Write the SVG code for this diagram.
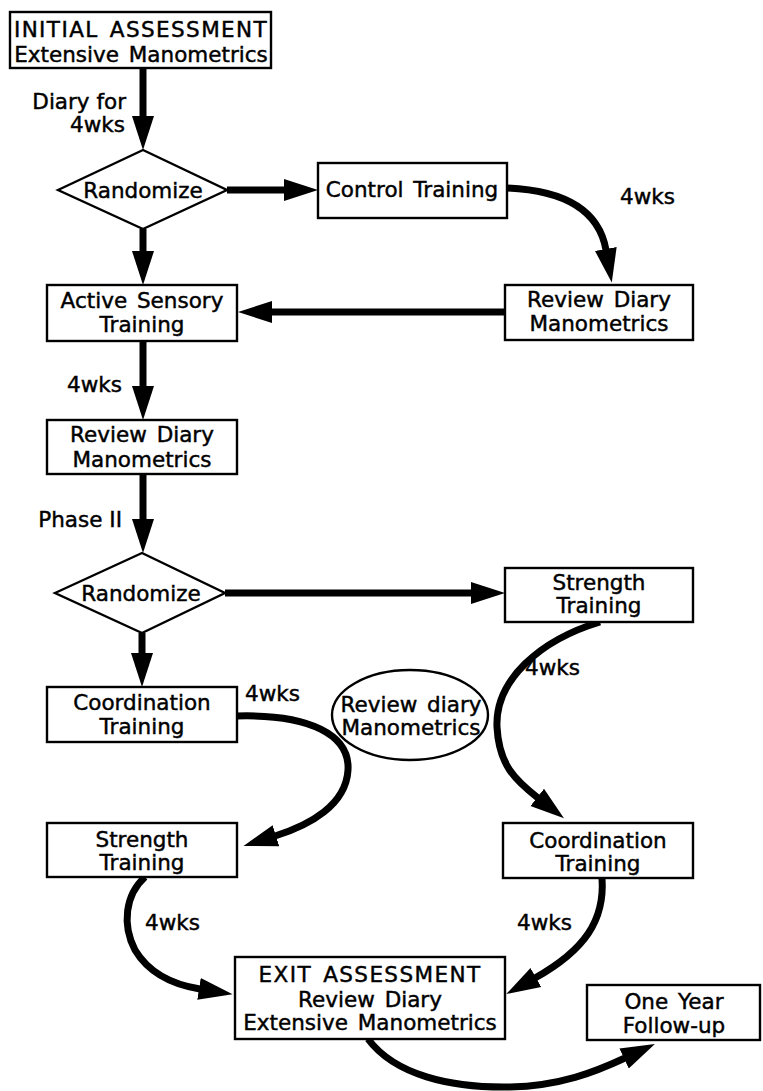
<svg xmlns="http://www.w3.org/2000/svg" width="763" height="1091" viewBox="0 0 763 1091">
<defs>
<style>
.box{fill:#fff;stroke:#000;stroke-width:2.4}
.t{font-family:"DejaVu Sans","Liberation Sans",sans-serif;font-size:21.5px;text-anchor:middle;fill:#000;stroke:#000;stroke-width:0.45;word-spacing:3px}
.caps{letter-spacing:1.4px}
.lbl{font-family:"DejaVu Sans","Liberation Sans",sans-serif;font-size:21.5px;fill:#000;stroke:#000;stroke-width:0.45}
.c{fill:none;stroke:#000;stroke-width:7;marker-end:url(#ah)}
</style>
<marker id="ah" markerUnits="userSpaceOnUse" markerWidth="40" markerHeight="26" viewBox="0 -13 40 26" refX="1" refY="0" orient="auto">
<path d="M0,-11 L34,0 L0,11 Z" fill="#000"/>
</marker>
</defs>
<rect width="763" height="1091" fill="#fff"/>
<g id="connectors">
<path class="c" d="M143,68 L143,117"/>
<path class="c" d="M227,190 L285,190"/>
<path class="c" d="M507,188 C555,190 598,205 606,250"/>
<path class="c" d="M505,312 L271,312"/>
<path class="c" d="M143,229 L143,252"/>
<path class="c" d="M143,341 L143,387"/>
<path class="c" d="M143,474 L143,520"/>
<path class="c" d="M225,593 L472,593"/>
<path class="c" d="M142,633 L142,654"/>
<path class="c" d="M237,716 C310,714 350,735 348,770 C346,805 310,825 275,836"/>
<path class="c" d="M600,622 C540,640 495,680 497,727 C499,765 515,780 538,798"/>
<path class="c" d="M145,877 C125,895 122,925 135,950 C150,975 175,985 200,989"/>
<path class="c" d="M602,878 C605,920 585,950 535,978"/>
<path class="c" d="M368,1039 C395,1075 450,1088 510,1087 C560,1086 595,1072 625,1058"/>
<text class="lbl" x="126" y="109" text-anchor="end">Diary for</text>
<text class="lbl" x="125" y="132" text-anchor="end">4wks</text>
<text class="lbl" x="620" y="204">4wks</text>
<text class="lbl" x="122" y="392" text-anchor="end">4wks</text>
<text class="lbl" x="122" y="527" text-anchor="end">Phase II</text>
<text class="lbl" x="245" y="701">4wks</text>
<text class="lbl" x="525" y="675">4wks</text>
<text class="lbl" x="145" y="930">4wks</text>
<text class="lbl" x="517" y="930">4wks</text>
</g>
<g id="initial">
<rect class="box" x="10" y="12" width="261" height="56"/>
<text class="t caps" x="141" y="37">INITIAL ASSESSMENT</text>
<text class="t" x="141" y="62">Extensive Manometrics</text>
</g>
<g id="randomize1">
<polygon class="box" points="58,190 143,150 227,190 143,229"/>
<text class="t" x="143" y="198">Randomize</text>
</g>
<g id="control">
<rect class="box" x="318" y="163" width="189" height="55"/>
<text class="t" x="412" y="197">Control Training</text>
</g>
<g id="review1">
<rect class="box" x="505" y="285" width="188" height="55"/>
<text class="t" x="599" y="307">Review Diary</text>
<text class="t" x="599" y="331">Manometrics</text>
</g>
<g id="active">
<rect class="box" x="47" y="285" width="190" height="56"/>
<text class="t" x="142" y="308">Active Sensory</text>
<text class="t" x="142" y="332">Training</text>
</g>
<g id="review2">
<rect class="box" x="47" y="420" width="190" height="54"/>
<text class="t" x="142" y="442">Review Diary</text>
<text class="t" x="142" y="467">Manometrics</text>
</g>
<g id="randomize2">
<polygon class="box" points="55,593 142,553 225,593 142,633"/>
<text class="t" x="141" y="601">Randomize</text>
</g>
<g id="strength1">
<rect class="box" x="505" y="568" width="188" height="54"/>
<text class="t" x="599" y="590">Strength</text>
<text class="t" x="599" y="613">Training</text>
</g>
<g id="coordination1">
<rect class="box" x="47" y="687" width="190" height="55"/>
<text class="t" x="142" y="710">Coordination</text>
<text class="t" x="142" y="734">Training</text>
</g>
<g id="reviewEllipse">
<ellipse class="box" cx="410" cy="715" rx="78" ry="45"/>
<text class="t" x="411" y="712">Review diary</text>
<text class="t" x="411" y="735">Manometrics</text>
</g>
<g id="strength2">
<rect class="box" x="47" y="823" width="190" height="54"/>
<text class="t" x="142" y="847">Strength</text>
<text class="t" x="142" y="870">Training</text>
</g>
<g id="coordination2">
<rect class="box" x="503" y="823" width="190" height="55"/>
<text class="t" x="598" y="848">Coordination</text>
<text class="t" x="598" y="871">Training</text>
</g>
<g id="exit">
<rect class="box" x="235" y="957" width="270" height="82"/>
<text class="t caps" x="370" y="982">EXIT ASSESSMENT</text>
<text class="t" x="370" y="1007">Review Diary</text>
<text class="t" x="370" y="1030">Extensive Manometrics</text>
</g>
<g id="followup">
<rect class="box" x="587" y="985" width="173" height="55"/>
<text class="t" x="674" y="1009">One Year</text>
<text class="t" x="674" y="1033">Follow-up</text>
</g>
</svg>
